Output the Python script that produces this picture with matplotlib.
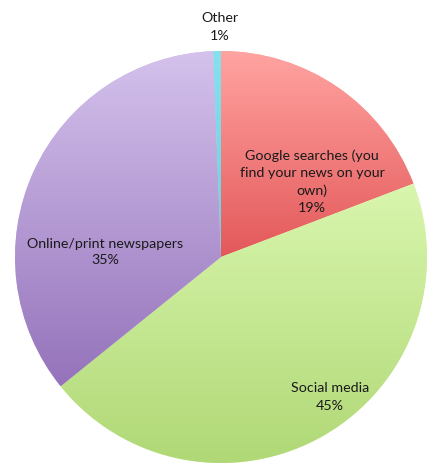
import numpy as np
import matplotlib
matplotlib.use("Agg")
import matplotlib.pyplot as plt
from matplotlib.colors import to_rgb

# ---- data ----
categories = ["Google searches (you\nfind your news on your\nown)", "Social media",
              "Online/print newspapers", "Other"]
values = [19.2, 45.0, 35.2, 0.6]
pct_labels = ["19%", "45%", "35%", "1%"]

# ---- styles ----
top_colors = ["#ffa4a1", "#d9f6ae", "#d4c2ec", "#86e0ee"]
bottom_colors = ["#e4585a", "#b0d876", "#9573bb", "#6fcfe2"]
label_xy = [(312, 182), (330, 397), (105, 252), (220, 27)]  # pixel positions (y from top)

W, H = 430, 472
fig = plt.figure(figsize=(W / 100, H / 100), dpi=100)
ax = fig.add_axes([0, 0, 1, 1])
ax.set_xlim(0, W)
ax.set_ylim(0, H)
ax.axis("off")

cx, cy, r = 221, H - 257, 206
wedges, _ = ax.pie(values, center=(cx, cy), radius=r, startangle=90, counterclock=False,
                   colors=top_colors, frame=True,
                   wedgeprops=dict(linewidth=0))

for w, c1, c2 in zip(wedges, top_colors, bottom_colors):
    ext = w.get_path().get_extents()
    c1 = np.array(to_rgb(c1)); c2 = np.array(to_rgb(c2))
    t = np.linspace(0, 1, 256)[:, None]
    grad = (c1 * (1 - t) + c2 * t)[:, None, :]
    im = ax.imshow(grad, extent=[ext.x0, ext.x1, ext.y0, ext.y1], origin="upper",
                   aspect="auto", interpolation="bilinear", zorder=2)
    im.set_clip_path(w)

ax.set_xlim(0, W)
ax.set_ylim(0, H)
ax.set_aspect("equal")
ax.axis("off")

for cat, pct, (x, y) in zip(categories, pct_labels, label_xy):
    ax.text(x, H - y, f"{cat}\n{pct}", ha="center", va="center", fontsize=10.3,
            family=["Lato", "DejaVu Sans"], color="#1a1a1a", linespacing=1.5, zorder=5)

fig.savefig("out.png", dpi=100)
